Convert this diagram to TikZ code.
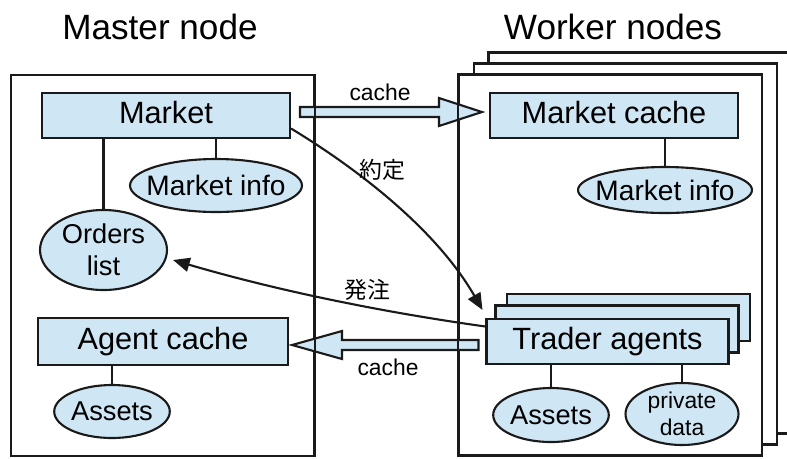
\documentclass[tikz,border=0pt]{standalone}
\usepackage{fontspec}
\setmainfont{Liberation Sans}
\newfontfamily\jpfont{Noto Sans CJK JP}
\usetikzlibrary{arrows.meta, shapes.geometric, calc}
\definecolor{clrBox}{HTML}{CFE6F4}
\definecolor{clrLine}{HTML}{1A1A1A}

\begin{document}
\begin{tikzpicture}[
  x=0.02cm, y=-0.02cm,
  frame/.style = {
    rectangle,
    draw=clrLine,
    fill=white,
    line width=1.2pt,
    minimum width=6.06cm,
    minimum height=7.62cm,
    inner sep=0pt
  },
  box/.style = {
    rectangle,
    draw=clrLine,
    fill=clrBox,
    line width=1.2pt,
    minimum width=4.96cm,
    minimum height=0.9cm,
    inner sep=0pt,
    text height=12.6pt, text depth=3.4pt,
    font=\fontsize{17.5pt}{21pt}\selectfont
  },
  blob/.style = {
    ellipse,
    draw=clrLine,
    fill=clrBox,
    line width=1.2pt,
    inner sep=0pt,
    align=center,
    font=\fontsize{15.5pt}{18pt}\selectfont
  },
  infoblob/.style = {
    blob,
    inner sep=-5pt,
    font=\fontsize{16pt}{18pt}\selectfont
  },
  title/.style = {font=\fontsize{20pt}{24pt}\selectfont},
  label/.style = {font=\fontsize{13pt}{15pt}\selectfont},
  jlabel/.style = {font=\fontsize{13pt}{15pt}\selectfont\jpfont},
  link/.style = {line width=1.2pt, draw=clrLine},
  arrow/.style = {
    -{Triangle[length=9.5pt, width=8pt]},
    line width=1.2pt,
    draw=clrLine
  },
  fat/.style = {
    draw=clrLine,
    fill=clrBox,
    line width=1.2pt,
    line join=miter
  }
]
\useasboundingbox (0,0) rectangle (787,458);
\clip (0,0) rectangle (787,458);

% ── frames ───────────────────────────────────────────────────────────────────
\node[title] (mtitle) at (160,27) {Master node};
\node[title] (wtitle) at (613,27) {Worker nodes};

\node[frame] (master)  at (162.5,265.5) {};
\node[frame] (worker3) at (640,243) {};
\node[frame] (worker2) at (625.5,254) {};
\node[frame] (worker)  at (610.5,265) {};

% ── master node ──────────────────────────────────────────────────────────────
\node[box] (market) at (166,115.5) {Market};
\node[infoblob, minimum width=3.44cm, minimum height=1.06cm] (minfo) at (216,185.5) {Market info};
\node[blob, minimum width=2.54cm, minimum height=1.6cm, inner sep=-2pt] (orders) at (103.5,250) {Orders\\list};
\node[box, minimum width=5cm, minimum height=0.94cm] (agent) at (163,341.5) {Agent cache};
\node[blob, minimum width=2.28cm, minimum height=1.06cm] (massets) at (112,411.5) {Assets};

\draw[link] (market.south -| orders.north) -- (orders.north);
\draw[link] (market.south -| minfo.north)  -- (minfo.north);
\draw[link] (agent.south -| massets.north) -- (massets.north);

% ── worker nodes ─────────────────────────────────────────────────────────────
\node[box] (mcache) at (614,115.5) {Market cache};
\node[infoblob, minimum width=3.48cm, minimum height=0.92cm] (winfo) at (665,190) {Market info};

\node[box, minimum width=4.86cm, minimum height=0.94cm] (trader3) at (628.5,317.5) {};
\node[box, minimum width=4.86cm, minimum height=0.94cm] (trader2) at (617,329) {};
\node[box, minimum width=4.84cm] (trader) at (607.5,341.5) {Trader agents};

\node[blob, minimum width=2.24cm, minimum height=1.08cm] (wassets) at (551,415) {Assets};
\node[blob, minimum width=2.26cm, minimum height=1.24cm, inner sep=-4pt,
      font=\fontsize{13pt}{15.5pt}\selectfont] (private) at (682,414) {private\\data};

\draw[link] (mcache.south -| winfo.north)  -- (winfo.north);
\draw[link] (trader.south -| wassets.north) -- (wassets.north);
\draw[link] (trader.south -| private.north) -- (private.north);

% ── cache transfers ──────────────────────────────────────────────────────────
\coordinate (upA) at ($(market.east)+(9,-3.5)$);
\coordinate (upB) at ($(mcache.west)+(-7,-3.5)$);
\coordinate (dnA) at ($(trader.west)+(-7,3.5)$);
\coordinate (dnB) at ($(agent.east)+(3,3.5)$);

\draw[fat] ($(upA)+(0,-5)$) -- ($(upB)+(-43,-5)$) -- ($(upB)+(-43,-14)$) -- (upB)
  -- ($(upB)+(-43,14)$) -- ($(upB)+(-43,5)$) -- ($(upA)+(0,5)$) -- cycle;
\draw[fat] ($(dnA)+(0,-5)$) -- ($(dnB)+(50,-5)$) -- ($(dnB)+(50,-14)$) -- (dnB)
  -- ($(dnB)+(50,14)$) -- ($(dnB)+(50,5)$) -- ($(dnA)+(0,5)$) -- cycle;

\node[label] (lblup)   at (380,92)  {cache};
\node[label] (lbldown) at (388,367) {cache};

% frame edges stay on top of the fat arrows
\draw[link] (master.north east) -- (master.south east);
\draw[link] (worker.north west) -- (worker.south west);

% ── orders and fills ─────────────────────────────────────────────────────────
\draw[arrow] ($(market.east)+(0,13)$)
  .. controls (366,174) and (439,234) .. ($(trader.north west)+(-3,-8)$);
\draw[arrow] ($(trader.west)+(0,-15)$)
  .. controls (381,312) and (275,290) .. ($(orders.east)+(5,10)$);
\node[jlabel] (lblfill)  at (382,170) {約定};
\node[jlabel] (lblorder) at (367,290) {発注};

\end{tikzpicture}
\end{document}
